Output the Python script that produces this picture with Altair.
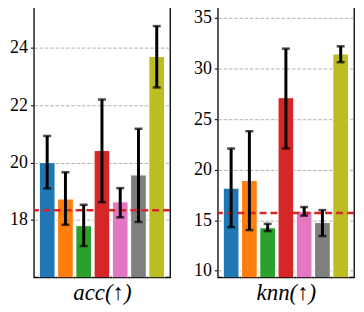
import altair as alt
import pandas as pd

methods = ["m1", "m2", "m3", "m4", "m5", "m6", "m7"]
colors = ["#1f77b4", "#ff7f0e", "#2ca02c", "#d62728", "#e377c2", "#7f7f7f", "#bcbd22"]

acc_mean = [20.0, 18.73, 17.8, 20.42, 18.63, 19.57, 23.7]
acc_lo = [19.1, 17.83, 17.09, 18.62, 18.09, 17.93, 22.62]
acc_hi = [20.93, 19.66, 18.53, 22.2, 19.11, 21.18, 24.76]
acc_ref = 18.34
acc_domain = [16.0, 25.5]
acc_ticks = [18, 20, 22, 24]

knn_mean = [18.17, 18.92, 14.25, 27.12, 15.88, 14.77, 31.44]
knn_lo = [14.31, 14.02, 13.92, 22.1, 15.45, 13.43, 30.63]
knn_hi = [22.09, 23.8, 14.64, 31.97, 16.3, 16.0, 32.2]
knn_ref = 15.72
knn_domain = [9.35, 36.3]
knn_ticks = [10, 15, 20, 25, 30, 35]

W, H = 137, 274
SERIF = "Liberation Serif"


def panel(mean, lo, hi, ref, domain, ticks, title):
    df = pd.DataFrame({"m": methods, "v": mean, "lo": lo, "hi": hi})
    x = alt.X("m:N", sort=methods,
              scale=alt.Scale(paddingInner=0.14, paddingOuter=0.3),
              axis=alt.Axis(labels=False, ticks=False, domain=False, title=title,
                            titleFont=SERIF, titleFontStyle="italic",
                            titleFontSize=23, titleFontWeight="normal",
                            titlePadding=4, titleColor="black"))
    yscale = alt.Scale(domain=domain, zero=False, nice=False)
    yaxis = alt.Axis(values=ticks, title=None, labelFont=SERIF,
                     labelFontSize=18, labelColor="black", labelPadding=3,
                     tickSize=3.5, tickColor="black", tickWidth=1, domain=False,
                     grid=True, gridDash=[3.5, 1.8], gridColor="#b0b0b0", gridWidth=1)
    bars = alt.Chart(df).mark_bar(stroke="white", strokeWidth=1, clip=True).encode(
        x=x,
        y=alt.Y("v:Q", scale=yscale, axis=yaxis),
        color=alt.Color("m:N", scale=alt.Scale(domain=methods, range=colors), legend=None),
    )
    err = alt.Chart(df).mark_rule(color="black", strokeWidth=3).encode(
        x=alt.X("m:N", sort=methods), y=alt.Y("lo:Q"), y2="hi:Q")
    cap_lo = alt.Chart(df).mark_tick(color="black", size=8, thickness=2.5).encode(
        x=alt.X("m:N", sort=methods), y=alt.Y("lo:Q"))
    cap_hi = alt.Chart(df).mark_tick(color="black", size=8, thickness=2.5).encode(
        x=alt.X("m:N", sort=methods), y=alt.Y("hi:Q"))
    refline = alt.Chart(pd.DataFrame({"r": [ref]})).mark_rule(
        color="#d62728", strokeWidth=2.5, strokeDash=[7, 4]).encode(y="r:Q")
    return alt.layer(bars, refline, err, cap_lo, cap_hi).properties(width=W, height=H)


left = panel(acc_mean, acc_lo, acc_hi, acc_ref, acc_domain, acc_ticks, "acc(↑)")
right = panel(knn_mean, knn_lo, knn_hi, knn_ref, knn_domain, knn_ticks, "knn(↑)")

chart = alt.hconcat(left, right, spacing=20, background="white",
                    padding={"left": 0, "top": -5, "right": 0, "bottom": 0}).configure(
    font=SERIF, view=alt.ViewConfig(stroke="black", strokeWidth=1.3)
)

chart.save("out.html", embed_options={"renderer": "svg", "actions": False})
